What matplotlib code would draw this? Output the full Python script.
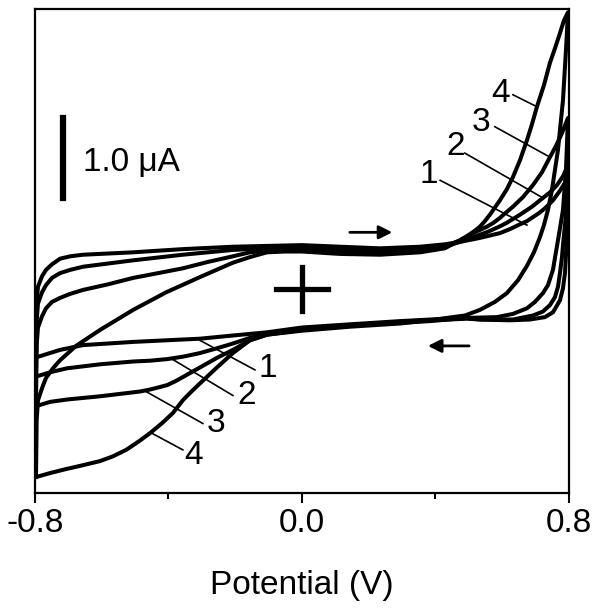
import matplotlib
matplotlib.use("Agg")
import matplotlib.pyplot as plt

plt.rcParams['font.family'] = ['Liberation Sans', 'DejaVu Sans']

# cyclic voltammograms, potential (V) vs current (uA)
# forward sweep (-0.8 -> 0.8), then reverse sweep (0.8 -> -0.8)
E1_fwd = [-0.797, -0.795, -0.791, -0.779, -0.767, -0.749, -0.725, -0.695, -0.656, -0.506, -0.357,
          -0.207, -0.105, 0.0, 0.114, 0.234, 0.354, 0.428, 0.473, 0.503, 0.533, 0.563, 0.593,
          0.623, 0.653, 0.674, 0.692, 0.710, 0.728, 0.752, 0.773, 0.788, 0.797]
I1_fwd = [-0.86, -0.14, 0.03, 0.16, 0.24, 0.31, 0.38, 0.41, 0.43, 0.46, 0.50,
          0.53, 0.54, 0.55, 0.53, 0.51, 0.53, 0.56, 0.59, 0.615, 0.64, 0.67, 0.70,
          0.75, 0.81, 0.85, 0.90, 0.95, 1.01, 1.11, 1.23, 1.33, 1.39]
E1_rev = [0.797, 0.794, 0.791, 0.788, 0.782, 0.773, 0.752, 0.728, 0.683, 0.623, 0.533, 0.494,
          0.384, 0.294, 0.144, 0.0, -0.105, -0.207, -0.306, -0.357, -0.506, -0.656, -0.725,
          -0.794, -0.797]
I1_rev = [1.39, 0.74, 0.43, 0.20, 0.01, -0.14, -0.29, -0.35, -0.38, -0.39, -0.38, -0.36,
          -0.38, -0.40, -0.44, -0.48, -0.54, -0.58, -0.62, -0.63, -0.66, -0.70, -0.76,
          -0.85, -0.86]

E2_fwd = [-0.797, -0.795, -0.791, -0.779, -0.767, -0.749, -0.725, -0.695, -0.656, -0.506, -0.357,
          -0.207, -0.105, 0.0, 0.114, 0.234, 0.354, 0.428, 0.450, 0.473, 0.503, 0.533, 0.553,
          0.572, 0.593, 0.614, 0.653, 0.689, 0.722, 0.743, 0.764, 0.782, 0.797]
I2_fwd = [-1.09, -0.40, -0.18, -0.04, 0.05, 0.14, 0.20, 0.24, 0.28, 0.36, 0.43,
          0.49, 0.51, 0.51, 0.49, 0.48, 0.50, 0.53, 0.56, 0.59, 0.635, 0.68, 0.71,
          0.745, 0.785, 0.83, 0.93, 1.03, 1.14, 1.21, 1.30, 1.41, 1.55]
E2_rev = [0.797, 0.791, 0.782, 0.779, 0.773, 0.767, 0.758, 0.743, 0.722, 0.692, 0.632, 0.533,
          0.494, 0.384, 0.294, 0.144, 0.0, -0.105, -0.156, -0.207, -0.255, -0.306, -0.357,
          -0.404, -0.455, -0.506, -0.605, -0.704, -0.755, -0.794, -0.797]
I2_rev = [1.55, 0.93, 0.55, 0.40, 0.20, 0.03, -0.10, -0.20, -0.28, -0.33, -0.38, -0.38,
          -0.37, -0.39, -0.41, -0.45, -0.50, -0.56, -0.61, -0.68, -0.74, -0.80, -0.845,
          -0.875, -0.895, -0.905, -0.94, -0.99, -1.04, -1.09, -1.09]

E3_fwd = [-0.797, -0.795, -0.791, -0.779, -0.767, -0.749, -0.725, -0.695, -0.656, -0.581, -0.506,
          -0.431, -0.357, -0.282, -0.207, -0.156, -0.105, 0.0, 0.114, 0.234, 0.354, 0.428, 0.450,
          0.473, 0.497, 0.518, 0.536, 0.554, 0.574, 0.593, 0.612, 0.632, 0.662, 0.692, 0.719,
          0.743, 0.761, 0.779, 0.797]
I3_fwd = [-1.46, -0.70, -0.48, -0.34, -0.24, -0.16, -0.11, -0.06, -0.01, 0.06, 0.14,
          0.20, 0.26, 0.34, 0.41, 0.46, 0.48, 0.49, 0.46, 0.45, 0.48, 0.53, 0.57,
          0.61, 0.66, 0.71, 0.745, 0.78, 0.83, 0.89, 0.96, 1.03, 1.15, 1.30, 1.46,
          1.65, 1.79, 1.95, 2.14]
E3_rev = [0.797, 0.791, 0.782, 0.773, 0.767, 0.758, 0.752, 0.737, 0.722, 0.698, 0.674, 0.632,
          0.584, 0.494, 0.384, 0.294, 0.144, 0.0, -0.105, -0.156, -0.207, -0.255, -0.306,
          -0.357, -0.381, -0.404, -0.431, -0.455, -0.485, -0.545, -0.605, -0.704, -0.755,
          -0.794, -0.797]
I3_rev = [2.14, 1.49, 0.99, 0.76, 0.61, 0.39, 0.24, 0.05, -0.05, -0.16, -0.24, -0.31,
          -0.35, -0.36, -0.40, -0.42, -0.46, -0.51, -0.57, -0.64, -0.76, -0.86, -0.98,
          -1.10, -1.155, -1.20, -1.23, -1.255, -1.28, -1.31, -1.34, -1.38, -1.41,
          -1.46, -1.46]

E4_fwd = [-0.797, -0.795, -0.791, -0.779, -0.767, -0.746, -0.725, -0.677, -0.605, -0.506, -0.407,
          -0.306, -0.207, -0.156, -0.105, -0.051, 0.0, 0.114, 0.234, 0.354, 0.428, 0.450, 0.473,
          0.497, 0.518, 0.533, 0.548, 0.563, 0.578, 0.593, 0.614, 0.632, 0.653, 0.674, 0.689,
          0.704, 0.725, 0.743, 0.758, 0.773, 0.785, 0.797]
I4_fwd = [-2.35, -1.64, -1.39, -1.24, -1.11, -0.99, -0.89, -0.71, -0.51, -0.26, -0.04,
          0.15, 0.33, 0.40, 0.46, 0.47, 0.47, 0.44, 0.43, 0.46, 0.51, 0.56, 0.61,
          0.67, 0.73, 0.78, 0.85, 0.93, 1.02, 1.11, 1.25, 1.40, 1.61, 1.86, 2.06,
          2.28, 2.55, 2.83, 3.01, 3.20, 3.36, 3.46]
E4_rev = [0.797, 0.791, 0.782, 0.773, 0.767, 0.758, 0.749, 0.737, 0.725, 0.713, 0.695, 0.674,
          0.647, 0.614, 0.578, 0.533, 0.488, 0.434, 0.384, 0.294, 0.144, 0.0, -0.105, -0.156,
          -0.207, -0.255, -0.306, -0.336, -0.357, -0.387, -0.419, -0.455, -0.491, -0.527,
          -0.566, -0.605, -0.665, -0.707, -0.755, -0.797]
I4_rev = [3.46, 2.99, 2.36, 1.99, 1.74, 1.49, 1.24, 0.99, 0.80, 0.65, 0.46, 0.29,
          0.11, -0.05, -0.16, -0.26, -0.33, -0.36, -0.39, -0.43, -0.47, -0.52, -0.57, -0.64,
          -0.80, -0.98, -1.18, -1.30, -1.39, -1.55, -1.675, -1.80, -1.91, -2.01,
          -2.09, -2.15, -2.21, -2.25, -2.30, -2.35]

curves = [(E1_fwd, I1_fwd, E1_rev, I1_rev),
          (E2_fwd, I2_fwd, E2_rev, I2_rev),
          (E3_fwd, I3_fwd, E3_rev, I3_rev),
          (E4_fwd, I4_fwd, E4_rev, I4_rev)]

# curve number labels: text position and leader line (curve end -> label end)
labels = ['1', '2', '3', '4']
up_text = [(0.381, 1.43), (0.461, 1.78), (0.536, 2.08), (0.596, 2.45)]
up_lead = [((0.414, 0.674), (1.36, 0.80)), ((0.488, 0.722), (1.70, 1.14)),
           ((0.578, 0.743), (2.03, 1.65)), ((0.632, 0.704), (2.43, 2.28))]
low_text = [(-0.102, -0.99), (-0.165, -1.33), (-0.258, -1.68), (-0.324, -2.08)]
low_lead = [((-0.306, -0.141), (-0.64, -1.01)), ((-0.395, -0.207), (-0.86, -1.33)),
            ((-0.476, -0.297), (-1.26, -1.68)), ((-0.455, -0.357), (-1.79, -2.01))]

fig = plt.figure(figsize=(6.0, 6.11), dpi=100)
ax = fig.add_axes([0.0583, 0.193, 0.8900, 0.792])

for ef, jf, er, jr in curves:
    ax.plot(ef + er, jf + jr, color='black', lw=2.9, solid_joinstyle='round')

for i in range(4):
    (x0, x1), (y0, y1) = up_lead[i]
    ax.plot([x0, x1], [y0, y1], color='black', lw=1.2)
    ax.text(up_text[i][0], up_text[i][1], labels[i], fontsize=24, ha='center', va='center')
    (x0, x1), (y0, y1) = low_lead[i]
    ax.plot([x0, x1], [y0, y1], color='black', lw=1.2)
    ax.text(low_text[i][0], low_text[i][1], labels[i], fontsize=24, ha='center', va='center')

# sweep direction arrows
ax.annotate('', xy=(0.279, 0.71), xytext=(0.135, 0.71),
            arrowprops=dict(arrowstyle='-|>', color='black', lw=2, mutation_scale=20))
ax.annotate('', xy=(0.369, -0.71), xytext=(0.509, -0.71),
            arrowprops=dict(arrowstyle='-|>', color='black', lw=2, mutation_scale=20))

# origin cross
ax.plot([-0.079, 0.079], [0, 0], color='black', lw=3.8)
ax.plot([0, 0], [-0.275, 0.275], color='black', lw=3.8)

# scale bar
ax.plot([-0.716, -0.716], [1.14, 2.14], color='black', lw=4.5)
ax.text(-0.656, 1.58, '1.0 μA', fontsize=24, ha='left', va='center')

ax.set_xlim(-0.8, 0.8)
ax.set_ylim(-2.55, 3.50)
ax.set_xticks([-0.8, 0.0, 0.8])
ax.set_xticklabels(['-0.8', '0.0', '0.8'])
ax.set_xticks([-0.4, 0.4], minor=True)
ax.set_yticks([])
ax.tick_params(axis='x', which='major', direction='out', length=7, width=1.5, labelsize=24, pad=4)
ax.tick_params(axis='x', which='minor', direction='out', length=4, width=1.5)
for s in ax.spines.values():
    s.set_linewidth(1.6)
ax.set_xlabel('Potential (V)', fontsize=24, labelpad=22)

fig.savefig('out.png', dpi=100)
